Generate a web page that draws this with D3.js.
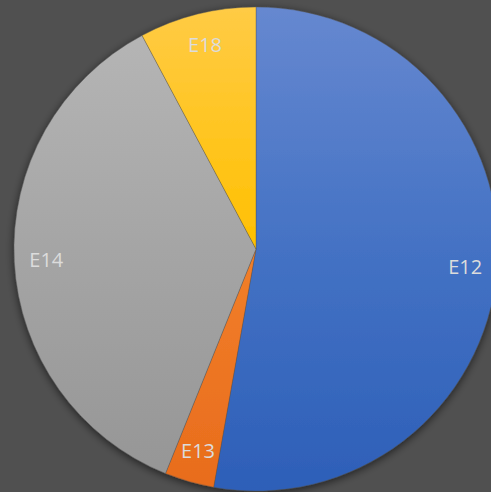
<!DOCTYPE html>
<html>
<head>
<meta charset="utf-8">
<script src="https://cdn.jsdelivr.net/npm/d3@7"></script>
<style>
  html, body { margin: 0; padding: 0; background: #505050; overflow: hidden; }
</style>
</head>
<body>
<div id="container"></div>
<script>
// chart data
var categories = ["E12", "E13", "E14", "E18"];
var values = [52.8, 3.3, 36.1, 7.8];

// colour stops per slice (top, middle, bottom)
var sliceColors = [
  ["#6688d0", "#4472c4", "#2d5fb8"],
  ["#f59350", "#f27f2a", "#e86c1c"],
  ["#b7b7b7", "#a5a5a5", "#959595"],
  ["#ffcb45", "#ffc000", "#ebb900"]
];

var width = 491, height = 492;
var cx = 256, cy = 249, radius = 242;

var svg = d3.select("#container")
  .append("svg")
  .attr("width", width)
  .attr("height", height);

svg.append("rect")
  .attr("width", width)
  .attr("height", height)
  .attr("fill", "#505050");

var defs = svg.append("defs");

// soft shadow under the pie
var shadow = defs.append("filter")
  .attr("id", "shadow")
  .attr("x", "-10%").attr("y", "-10%")
  .attr("width", "120%").attr("height", "120%");
shadow.append("feGaussianBlur").attr("in", "SourceAlpha").attr("stdDeviation", 4);
shadow.append("feOffset").attr("dx", 0).attr("dy", 2).attr("result", "blur");
shadow.append("feComponentTransfer").append("feFuncA").attr("type", "linear").attr("slope", 0.6);
var merge = shadow.append("feMerge");
merge.append("feMergeNode");
merge.append("feMergeNode").attr("in", "SourceGraphic");

// vertical gradients spanning the whole pie
sliceColors.forEach(function(c, i) {
  var g = defs.append("linearGradient")
    .attr("id", "grad" + i)
    .attr("gradientUnits", "userSpaceOnUse")
    .attr("x1", 0).attr("y1", -radius)
    .attr("x2", 0).attr("y2", radius);
  g.append("stop").attr("offset", "0%").attr("stop-color", c[0]);
  g.append("stop").attr("offset", "50%").attr("stop-color", c[1]);
  g.append("stop").attr("offset", "100%").attr("stop-color", c[2]);
});

var pie = d3.pie().sort(null).value(function(d) { return d; });
var arcs = pie(values);

var arc = d3.arc().innerRadius(0).outerRadius(radius);
var labelArc = d3.arc().innerRadius(210).outerRadius(210);

var g = svg.append("g")
  .attr("transform", "translate(" + cx + "," + cy + ")");

var slices = g.append("g").attr("filter", "url(#shadow)");

slices.selectAll("path")
  .data(arcs)
  .enter()
  .append("path")
  .attr("d", arc)
  .attr("fill", function(d, i) { return "url(#grad" + i + ")"; })
  .attr("stroke", "rgba(80,80,80,0.6)")
  .attr("stroke-width", 0.6);

// labels inside end
g.selectAll("text")
  .data(arcs)
  .enter()
  .append("text")
  .attr("transform", function(d) { return "translate(" + labelArc.centroid(d) + ")"; })
  .attr("text-anchor", "middle")
  .attr("dy", "0.35em")
  .style("font-family", "'Open Sans', sans-serif")
  .style("font-size", "20px")
  .style("fill", "#dcdcdc")
  .text(function(d, i) { return categories[i]; });
</script>
</body>
</html>
